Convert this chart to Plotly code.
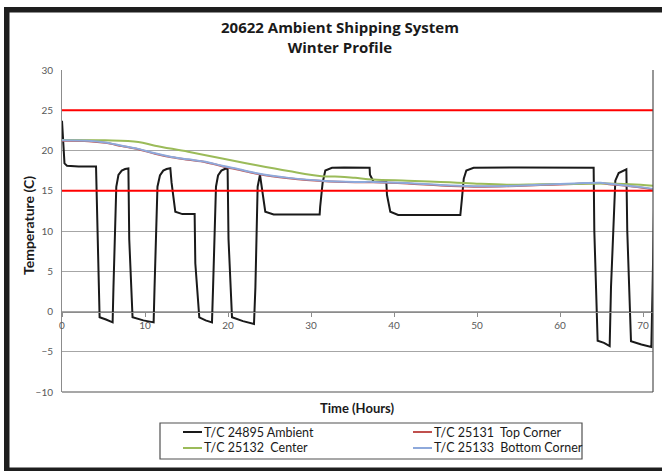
import plotly.graph_objects as go

# ---------------- data ----------------
amb_hours = [0, 0.3, 0.6, 2.0, 4.1, 4.53, 5.3, 6.1, 6.2, 6.54, 6.8, 7.2, 7.6, 8.0,
             8.1, 8.5, 9.8, 11.04, 11.15, 11.5, 11.8, 12.2, 12.6, 13.05, 13.2, 13.65, 14.5,
             15.98, 16.06, 16.54, 17.3, 18.07, 18.2, 18.55, 18.8, 19.2, 19.6, 19.95,
             20.06, 20.48, 21.8, 23.13, 23.3, 23.57, 23.85, 24.1, 24.49, 25.5, 28, 31.04,
             31.1, 31.4, 31.72, 32.53, 34, 37.06, 37.1, 37.54, 38.3, 39.07, 39.15, 39.55,
             40.5, 44, 47.99, 48.18, 48.4, 48.71, 49.59, 55, 60, 64.05, 64.13, 64.53, 65.3,
             65.98, 66.14, 66.66, 67.06, 67.99, 68.1, 68.55, 69.8, 71.0, 71.15, 71.4]
amb_temps = [23.7, 18.4, 18.1, 18.0, 18.0, -0.72, -1.0, -1.35, 3.0, 15.5, 16.96, 17.5, 17.7, 17.76,
             9.0, -0.72, -1.1, -1.35, 3.0, 15.5, 16.9, 17.5, 17.7, 17.8, 16.0, 12.4, 12.1,
             12.1, 6.0, -0.72, -1.1, -1.35, 3.0, 15.5, 16.9, 17.5, 17.7, 17.8,
             9.0, -0.72, -1.2, -1.55, 3.0, 15.5, 17.0, 15.0, 12.4, 12.05, 12.05, 12.05,
             13.0, 16.0, 17.52, 17.85, 17.9, 17.85, 17.0, 16.13, 16.1, 16.1, 14.5, 12.4,
             12.0, 11.99, 11.99, 14.0, 16.5, 17.52, 17.85, 17.9, 17.85, 17.85, 10.0, -3.63, -3.9,
             -4.29, 3.0, 16.26, 17.2, 17.65, 10.0, -3.7, -4.1, -4.4, 3.0, 17.0]

center_hours = [0, 5.2, 9.2, 11.2, 15.2, 19.3, 23.3, 27.3, 31.3, 33.5, 35.3, 37.5,
                41.6, 45.6, 49.6, 53.6, 57.6, 61.7, 65.7, 69.7, 71.3]
center_temps = [21.3, 21.26, 21.06, 20.6, 19.85, 19.0, 18.2, 17.45, 16.8, 16.75, 16.6, 16.4,
                16.25, 16.1, 15.9, 15.75, 15.8, 15.85, 15.9, 15.75, 15.6]

bottom_hours = [0, 3.2, 5.2, 7.2, 9.2, 11.2, 13.2, 15.2, 17.3, 19.3, 21.3, 23.3, 25.3,
                27.3, 31.3, 35.3, 37.5, 41.6, 45.6, 49.6, 53.6, 57.6, 61.7, 64.9, 65.7,
                69.7, 71.3]
bottom_temps = [21.26, 21.2, 21.0, 20.6, 20.2, 19.65, 19.2, 18.9, 18.6, 18.1, 17.66, 17.2,
                16.85, 16.6, 16.25, 16.1, 16.1, 15.95, 15.7, 15.55, 15.6, 15.75, 15.9, 16.0,
                15.9, 15.45, 15.2]

top_hours = [0, 3.2, 5.2, 7.2, 9.2, 11.2, 13.2, 15.2, 17.3, 19.3, 21.3, 23.3, 25.3,
             27.3, 31.3, 35.3, 37.5, 41.6, 45.6, 49.6, 53.6, 57.6, 61.7, 64.9, 65.7,
             69.7, 71.3]
top_temps = [21.2, 21.15, 20.95, 20.55, 20.15, 19.6, 19.15, 18.85, 18.55, 18.05, 17.6, 17.15,
             16.8, 16.55, 16.2, 16.05, 16.05, 15.9, 15.65, 15.5, 15.55, 15.7, 15.85, 15.95,
             15.85, 15.4, 15.15]

limit_values = [25, 15]

series_names = ["T/C 24895 Ambient", "T/C 25131  Top Corner",
                "T/C 25132  Center", "T/C 25133  Bottom Corner"]
series_colors = ["#1a1a1a", "#C0504D", "#9BBB59", "#8EA9DB"]

x_ticks = [0, 10, 20, 30, 40, 50, 60, 70]
x_range = [0, 71.2]
y_range = [-10, 30]

# ---------------- layout geometry ----------------
W, H = 662, 471
L, R, T, B = 62, 9, 70, 79
PW, PH = W - L - R, H - T - B


def px(x):
    return (x - L) / PW


def py(y):
    return (H - B - y) / PH


FONT = "Lato"

fig = go.Figure()
fig.add_trace(go.Scatter(x=amb_hours, y=amb_temps, mode="lines", name=series_names[0],
                         line=dict(color=series_colors[0], width=2), showlegend=False))
fig.add_trace(go.Scatter(x=top_hours, y=top_temps, mode="lines", name=series_names[1],
                         line=dict(color=series_colors[1], width=2, shape="spline"), showlegend=False))
fig.add_trace(go.Scatter(x=center_hours, y=center_temps, mode="lines", name=series_names[2],
                         line=dict(color=series_colors[2], width=2, shape="spline"), showlegend=False))
fig.add_trace(go.Scatter(x=bottom_hours, y=bottom_temps, mode="lines", name=series_names[3],
                         line=dict(color=series_colors[3], width=2, shape="spline"), showlegend=False))

shapes = []
for v in limit_values:
    shapes.append(dict(type="line", xref="paper", yref="y", x0=0, x1=1, y0=v, y1=v,
                       line=dict(color="#FF0000", width=2.2), layer="above"))
# plot-area frame (right & bottom)
shapes.append(dict(type="line", xref="paper", yref="paper", x0=1, x1=1, y0=0, y1=1,
                   line=dict(color="#505050", width=1.2)))
shapes.append(dict(type="line", xref="paper", yref="paper", x0=0, x1=1, y0=0, y1=0,
                   line=dict(color="#505050", width=1.2)))
# outer chart frame (filled bars: left, top, bottom)
FRAME_COL = "#1e1e1e"
for (ax0, ax1, ay0, ay1) in [(4, 9.5, 7, 471), (4, 662, 7, 12.5), (4, 662, 467.5, 471)]:
    shapes.append(dict(type="rect", xref="paper", yref="paper", x0=px(ax0), x1=px(ax1),
                       y0=py(ay1), y1=py(ay0), fillcolor=FRAME_COL, line=dict(width=0),
                       layer="above"))
# legend box
shapes.append(dict(type="rect", xref="paper", yref="paper", x0=px(160), x1=px(582),
                   y0=py(459), y1=py(423), line=dict(color="#505050", width=1.2)))

annotations = []
leg_pos = [(183, 432), (413, 432), (183, 448), (413, 448)]
for (lx, ly), name, col in zip(leg_pos, series_names, series_colors):
    shapes.append(dict(type="line", xref="paper", yref="paper", x0=px(lx), x1=px(lx + 19),
                       y0=py(ly), y1=py(ly), line=dict(color=col, width=2)))
    annotations.append(dict(x=px(lx + 19), y=py(ly), xref="paper", yref="paper", text=name,
                            showarrow=False, xanchor="left", yanchor="middle",
                            font=dict(family=FONT, size=12.5, color="#1a1a1a")))

annotations.append(dict(x=px(28), y=py(226), xref="paper", yref="paper", text="<b>Temperature (C)</b>",
                        textangle=-90, showarrow=False, xanchor="center", yanchor="middle",
                        font=dict(family=FONT, size=14, color="#1a1a1a")))
annotations.append(dict(x=px(357), y=py(408), xref="paper", yref="paper", text="<b>Time (Hours)</b>",
                        showarrow=False, xanchor="center", yanchor="middle",
                        font=dict(family=FONT, size=13, color="#1a1a1a")))
annotations.append(dict(x=px(340), y=py(37), xref="paper", yref="paper",
                        text="<b>20622 Ambient Shipping System</b><br><b>Winter Profile</b>",
                        showarrow=False, xanchor="center", yanchor="middle", align="center",
                        font=dict(family="Open Sans", size=15, color="#1a1a1a")))

fig.update_layout(
    width=W, height=H, autosize=False,
    margin=dict(l=L, r=R, t=T, b=B, pad=0),
    paper_bgcolor="white", plot_bgcolor="white",
    showlegend=False,
    shapes=shapes, annotations=annotations,
    xaxis=dict(range=x_range, tickvals=x_ticks, showgrid=False, zeroline=False,
               anchor="free", position=(0 - y_range[0]) / (y_range[1] - y_range[0]),
               showline=True, linecolor="#8c8c8c", linewidth=1,
               ticks="outside", ticklen=4, tickcolor="#8c8c8c",
               tickfont=dict(family=FONT, size=10, color="#595959")),
    yaxis=dict(range=y_range, dtick=5, showgrid=True, gridcolor="#a6a6a6", gridwidth=1,
               zeroline=False, showline=True, linecolor="#8c8c8c", linewidth=1,
               ticks="", ticklabelstandoff=6,
               tickfont=dict(family=FONT, size=10, color="#595959")),
)

fig.write_html("out.html", config={"displayModeBar": False},
               post_script="document.body.style.margin='0';document.body.style.overflow='hidden';")
